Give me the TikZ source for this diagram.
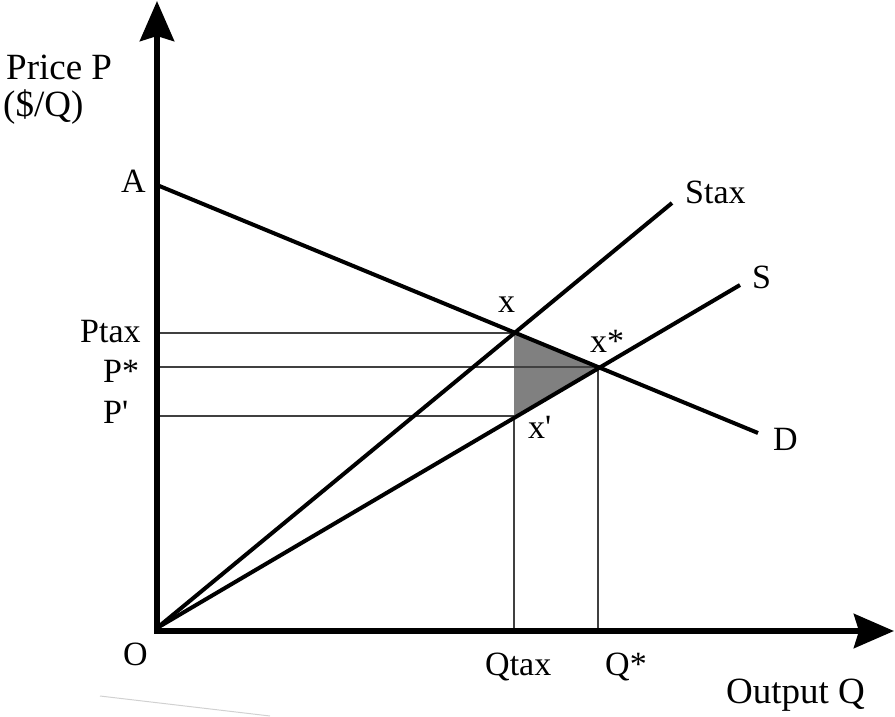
\documentclass[tikz,border=0pt]{standalone}
\usepackage{fontspec}
\setmainfont{Liberation Serif}[Ligatures=TeXOff]
\usetikzlibrary{arrows.meta}
\begin{document}
\begin{tikzpicture}[x=1pt,y=-1pt,
  lab/.style={font=\fontsize{34}{40}\selectfont, inner sep=0pt},
  axislab/.style={font=\fontsize{37}{43}\selectfont, inner sep=0pt},
  axisline/.style={line width=6pt, -{Stealth[length=40pt,width=34pt,inset=5pt]}},
  curve/.style={line width=4pt},
  guide/.style={line width=1.2pt, black!75},
  area/.style={fill=black!50}]
\useasboundingbox (0,0) rectangle (895,717);
% key points
\coordinate (O) at (157,631);
\coordinate (Ytip) at (157,1);
\coordinate (Xtip) at (894,631);
\coordinate (A) at (157,185);
\coordinate (Dend) at (758,433);
\coordinate (Sbeg) at (157,628);
\coordinate (Send) at (740,285);
\coordinate (STend) at (672,203);
\coordinate (X) at (514,333);
\coordinate (Xs) at (598,367);
\coordinate (Xp) at (514,416);
\coordinate (PtaxL) at (157,333);
\coordinate (PsL) at (157,367);
\coordinate (PpL) at (157,416);
\coordinate (Qt) at (514,631);
\coordinate (Qs) at (598,631);
\coordinate (f1) at (100,696);
\coordinate (f2) at (270,716);
% shaded triangle
\fill[area] (X) -- (Xs) -- (Xp) -- cycle;
% guide lines
\draw[guide] (PtaxL) -- (X);
\draw[guide] (PsL) -- (Xs);
\draw[guide] (PpL) -- (Xp);
\draw[guide] (Xp) -- (Qt);
\draw[guide] (Xs) -- (Qs);
% faint stray line
\draw[black!18, line width=1pt] (f1) -- (f2);
% curves
\draw[curve] (A) -- (Dend);
\draw[curve] (Sbeg) -- (STend);
\draw[curve] (Sbeg) -- (Send);
% axes
\draw[axisline] (O) -- (Ytip);
\draw[axisline] ([xshift=-3pt]O) -- (Xtip);
% labels
\node[axislab, anchor=base west] (priceP) at (6,80) {Price P};
\node[axislab, anchor=base west] (priceQ) at (3,117) {(\$/Q)};
\node[axislab, anchor=base west] (output) at (726,703) {Output Q};
\node[lab, anchor=base east] (labA) at (146,192) {A};
\node[lab, anchor=base west] (labO) at (123,665) {O};
\node[lab, anchor=base west] (labPtax) at (80,342) {Ptax};
\node[lab, anchor=base west] (labPs) at (103,382) {P*};
\node[lab, anchor=base west] (labPp) at (103,423) {P'};
\node[lab, anchor=base west] (labQt) at (485,675) {Qtax};
\node[lab, anchor=base west] (labQs) at (605,675) {Q*};
\node[lab, anchor=base west] (labStax) at (685,203) {Stax};
\node[lab, anchor=base west] (labS) at (752,288) {S};
\node[lab, anchor=base west] (labD) at (773,450) {D};
\node[lab, anchor=base west] (labx) at (498,312) {x};
\node[lab, anchor=base west] (labxs) at (590,352) {x*};
\node[lab, anchor=base west] (labxp) at (528,438) {x'};
\end{tikzpicture}
\end{document}
